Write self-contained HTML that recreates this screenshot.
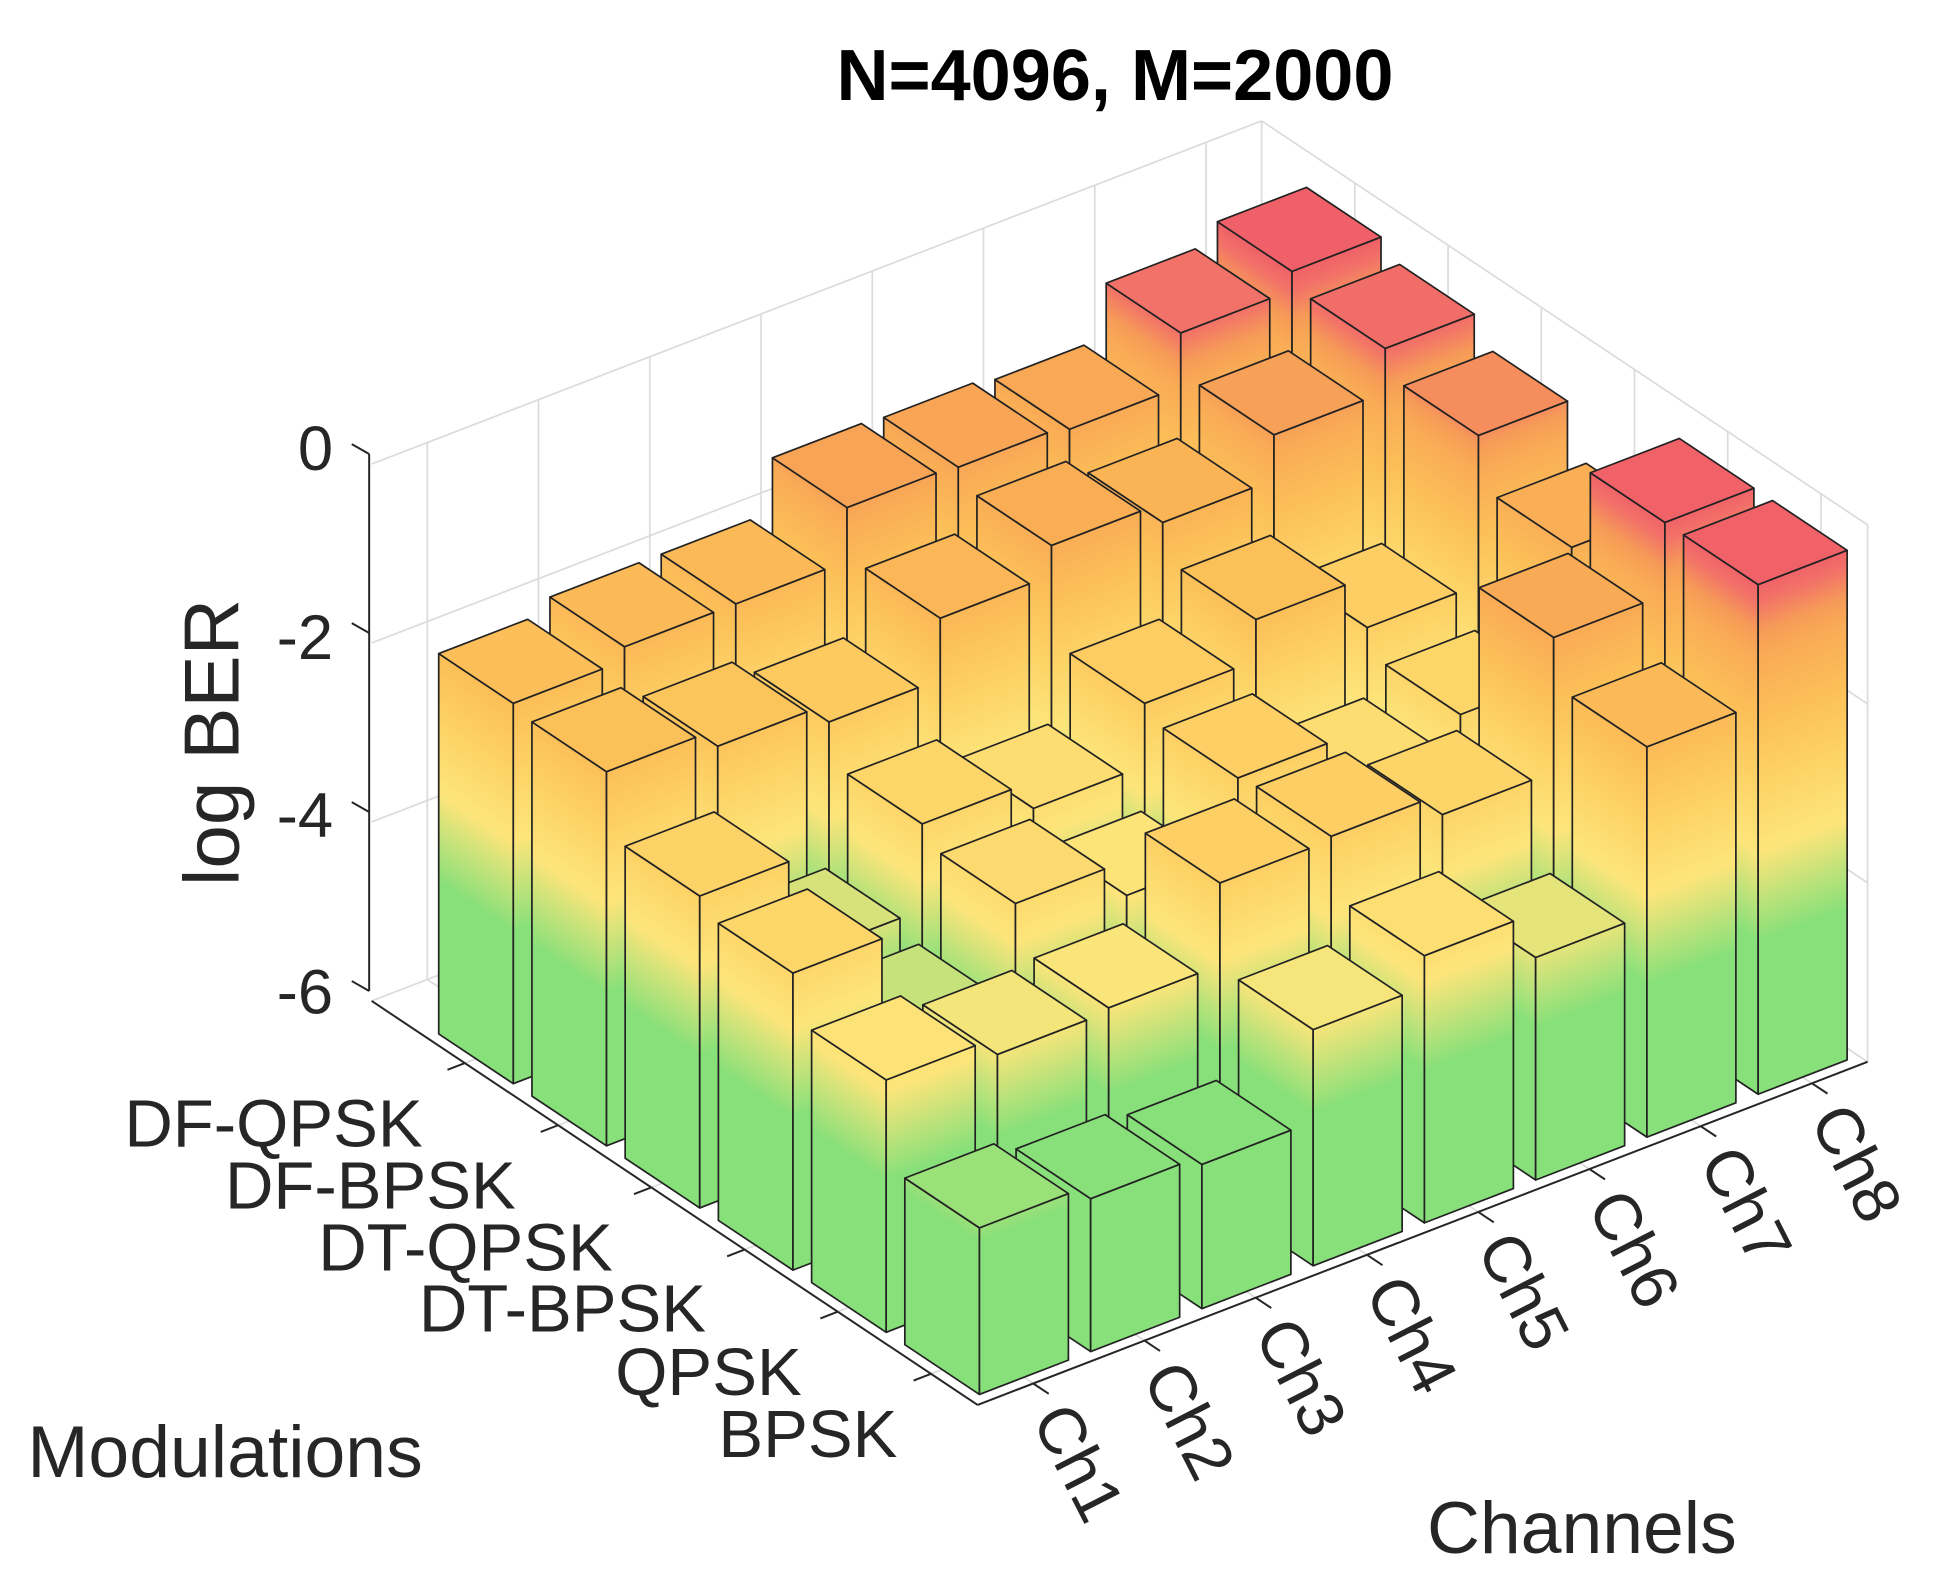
<!DOCTYPE html>
<html><head><meta charset="utf-8"><style>
html,body{margin:0;padding:0;background:#fff;}
svg{display:block;}
text{font-family:"Liberation Sans",Arial,sans-serif;fill:#262626;}
</style></head><body>
<svg id="s" width="1949" height="1588" viewBox="0 0 1568 1277" xmlns="http://www.w3.org/2000/svg">
<defs>
<linearGradient id="g" gradientUnits="userSpaceOnUse" x1="0" y1="-6.5" x2="0" y2="0.5">
<stop offset="0" stop-color="#88e07a"/>
<stop offset="0.314" stop-color="#88e07a"/>
<stop offset="0.457" stop-color="#fde57a"/>
<stop offset="0.557" stop-color="#fdd468"/>
<stop offset="0.671" stop-color="#fcbf58"/>
<stop offset="0.771" stop-color="#f9aa55"/>
<stop offset="0.81" stop-color="#f69a58"/>
<stop offset="0.857" stop-color="#f27268"/>
<stop offset="0.889" stop-color="#f06068"/>
<stop offset="1" stop-color="#ee5a6a"/>
</linearGradient>
</defs>
<rect x="0" y="0" width="1568" height="1277" fill="#fff"/>
<g id="grid"></g>
<g id="axes"></g>
<g id="bars"></g>
<text x="897" y="80" font-size="58" font-weight="bold" text-anchor="middle" style="fill:#000">N=4096, M=2000</text>
<g font-size="51" text-anchor="end">
<text x="268" y="378">0</text>
<text x="268" y="530">-2</text>
<text x="268" y="673">-4</text>
<text x="268" y="815">-6</text>
</g>
<text transform="translate(192,597) rotate(-90)" font-size="63" text-anchor="middle">log BER</text>
<g font-size="54" text-anchor="end">
<text x="340" y="922">DF-QPSK</text>
<text x="415" y="972">DF-BPSK</text>
<text x="493" y="1022">DT-QPSK</text>
<text x="568" y="1071">DT-BPSK</text>
<text x="645" y="1122">QPSK</text>
<text x="722" y="1172">BPSK</text>
</g>
<g font-size="53" dominant-baseline="central">
<text transform="translate(846,1133) rotate(63)">Ch1</text>
<text transform="translate(935,1099) rotate(63)">Ch2</text>
<text transform="translate(1025,1064) rotate(63)">Ch3</text>
<text transform="translate(1114,1030) rotate(63)">Ch4</text>
<text transform="translate(1204,995) rotate(63)">Ch5</text>
<text transform="translate(1293,961) rotate(63)">Ch6</text>
<text transform="translate(1383,926) rotate(63)">Ch7</text>
<text transform="translate(1472,892) rotate(63)">Ch8</text>
</g>
<text x="22" y="1188" font-size="59">Modulations</text>
<text x="1148" y="1249" font-size="59">Channels</text>
</svg>
<script>
(function(){
var NS="http://www.w3.org/2000/svg";
function el(t,a,p){var e=document.createElementNS(NS,t);for(var k in a)e.setAttribute(k,a[k]);p.appendChild(e);return e;}
var F=[786.5,1130],Mb=[-75,-50],C=[89.5,-34.5],ZP=72;
function pt(i,j){return [F[0]+i*Mb[0]+j*C[0],F[1]+i*Mb[1]+j*C[1]];}
var grid=document.getElementById('grid'),axes=document.getElementById('axes'),bars=document.getElementById('bars');
var L=pt(6.5,0),B=pt(6.5,8),R=pt(0,8);
var gs={stroke:"#dcdcdc","stroke-width":1.4,fill:"none"};
function line(a,b,st,p){el('line',Object.assign({x1:a[0],y1:a[1],x2:b[0],y2:b[1]},st),p);}
for(var z=0;z<=6;z+=2){var dy=-z*ZP;line([L[0],L[1]+dy],[B[0],B[1]+dy],gs,grid);line([B[0],B[1]+dy],[R[0],R[1]+dy],gs,grid);}
line([B[0],B[1]],[B[0],B[1]-432],gs,grid);
line([R[0],R[1]],[R[0],R[1]-432],gs,grid);
for(var j=0;j<8;j++){var a=pt(6.5,j+0.5);line(a,[a[0],a[1]-432],gs,grid);var f=pt(0,j+0.5);line(a,f,gs,grid);}
for(var i=0;i<6;i++){var a=pt(i+0.5,8);line(a,[a[0],a[1]-432],gs,grid);var f=pt(i+0.5,0);line(a,f,gs,grid);}
var as={stroke:"#262626","stroke-width":1.6};
line([297,797],[297,365],as,axes);
for(var k=0;k<4;k++){var y=365+k*144;line([297,y],[283,y-8],as,axes);}
line(L,F,as,axes);line(F,R,as,axes);
for(var i=0;i<6;i++){var a=pt(i+0.5,0);line(a,[a[0]-14,a[1]+5.4],as,axes);}
for(var j=0;j<8;j++){var a=pt(0,j+0.5);line(a,[a[0]+12.5,a[1]+8.3],as,axes);}
var cm=[[-6.5,[136,224,122]],[-4.3,[136,224,122]],[-3.3,[253,229,122]],[-2.6,[253,212,104]],[-1.8,[252,191,88]],[-1.1,[249,170,85]],[-0.83,[246,154,88]],[-0.5,[242,114,104]],[-0.28,[240,96,104]],[0.5,[238,90,106]]];
function col(z){for(var k=0;k<cm.length-1;k++){if(z<=cm[k+1][0]){var t=(z-cm[k][0])/(cm[k+1][0]-cm[k][0]);t=Math.max(0,Math.min(1,t));var c=cm[k][1],d=cm[k+1][1];return 'rgb('+[0,1,2].map(function(q){return Math.round(c[q]+(d[q]-c[q])*t);}).join(',')+')';}}return 'rgb(238,90,106)';}
var H=[
[134,123,116,190,215,179,314,410],
[203,189,192,258,261,244,352,410],
[239,160,226,198,258,220,240,340],
[251,171,240,218,268,301,260,380],
[301,287,272,321,345,329,365,400],
[306,317,317,360,358,354,397,412]];
var list=[];for(var i=0;i<6;i++)for(var j=0;j<8;j++)list.push([i,j]);
list.sort(function(a,b){return (b[0]+b[1])-(a[0]+a[1]) || b[0]-a[0];});
var ss={stroke:"#222","stroke-width":1.7,"vector-effect":"non-scaling-stroke","stroke-linejoin":"round"};
list.forEach(function(c){
var i=c[0],j=c[1],h=H[i][j],zt=-6+h/ZP;
var P=pt(i+0.1,j+0.1);
var dM=[Mb[0]*0.8,Mb[1]*0.8],dC=[C[0]*0.8,C[1]*0.8];
[dM,dC].forEach(function(d){
 el('rect',Object.assign({x:0,y:-6,width:1,height:h/ZP,fill:"url(#g)",transform:"matrix("+d[0]+","+d[1]+",0,"+(-ZP)+","+P[0]+","+(P[1]-432)+")"},ss),bars);
});
var T=[P[0],P[1]-h];
var pts=[T,[T[0]+dM[0],T[1]+dM[1]],[T[0]+dM[0]+dC[0],T[1]+dM[1]+dC[1]],[T[0]+dC[0],T[1]+dC[1]]];
el('polygon',Object.assign({points:pts.map(function(p){return p.join(',');}).join(' '),fill:col(zt)},ss),bars);
});
})();
</script>
</body></html>
